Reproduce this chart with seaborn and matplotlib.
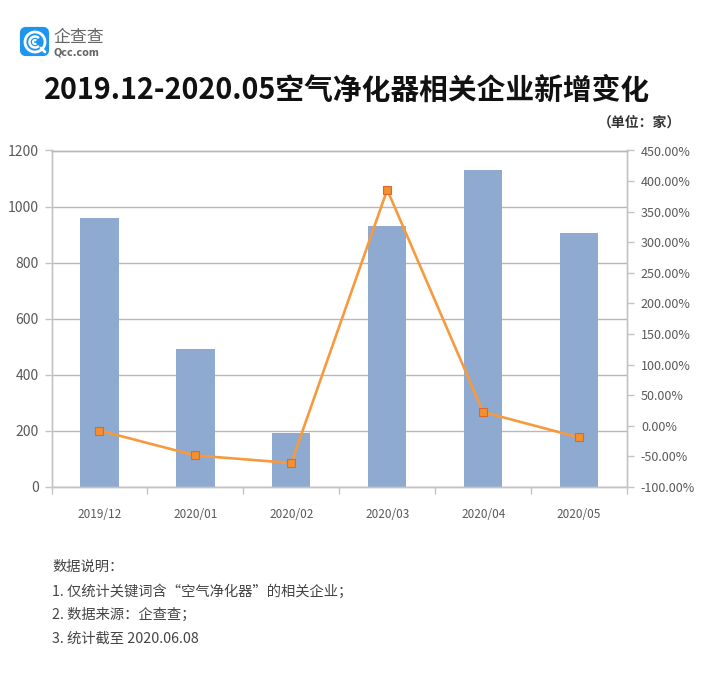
"""Air purifier company registrations, monthly count and change rate."""

import numpy as np
import pandas as pd
import matplotlib
matplotlib.use('Agg')
import matplotlib.pyplot as plt
from matplotlib.patches import FancyBboxPatch, Circle, Arc
import seaborn as sns

months = ['2019/12', '2020/01', '2020/02', '2020/03', '2020/04', '2020/05']
new_companies = [959, 493, 192, 929, 1130, 907]
change_pct = [-7.7, -48.4, -60.8, 385.8, 22.5, -19]
left_ticks = [0, 200, 400, 600, 800, 1000, 1200]
right_ticks = [-100, -50, 0, 50, 100, 150, 200, 250, 300, 350, 400, 450]

TITLE = '2019.12-2020.05空气净化器相关企业新增变化'
NOTES = ['数据说明：',
         '1. 仅统计关键词含“空气净化器”的相关企业；',
         '2. 数据来源：企查查；',
         '3. 统计截至 2020.06.08']

sns.set_theme(style='white')
plt.rcParams['font.family'] = ['Noto Sans CJK SC', 'DejaVu Sans']

df = pd.DataFrame({'month': months, 'count': new_companies, 'pct': change_pct})

W, H = 703, 690
fig = plt.figure(figsize=(W / 100, H / 100), dpi=100, facecolor='white')
ax = fig.add_axes([51.5 / W, 1 - 487 / H, 575.5 / W, 336.5 / H])

sns.barplot(data=df, x='month', y='count', color='#8FAAD1', saturation=1, width=0.4, linewidth=0, ax=ax, zorder=2)
ax.set_ylim(0, 1200)
ax.set_xlim(-0.5, 5.5)
ax.set_xlabel('')
ax.set_ylabel('')
ax.set_yticks(left_ticks)
ax.yaxis.grid(True, color='#B8B8B8', linewidth=1)
ax.set_axisbelow(True)

ax2 = ax.twinx()
sns.lineplot(data=df, x='month', y='pct', color='#F79A3E', linewidth=1.9, marker='s', markersize=5.5,
             markerfacecolor='#F39030', markeredgecolor='#E0662A', markeredgewidth=0.8, ax=ax2, zorder=3)
ax2.set_ylim(-100, 450)
ax2.set_xlim(-0.5, 5.5)
ax2.set_ylabel('')
ax2.set_yticks(right_ticks)
ax2.set_yticklabels([f'{v:.2f}%' for v in right_ticks])
ax2.grid(False)

for a in (ax, ax2):
    for side in ('right', 'left', 'bottom'):
        a.spines[side].set_color('#C4C4C4')
        a.spines[side].set_linewidth(1)
    a.spines['top'].set_color('#B8B8B8')
    a.spines['top'].set_linewidth(1)

ax.set_xticks(np.arange(-0.5, 6, 1), minor=True)
ax.tick_params(axis='x', which='minor', length=5, width=1, color='#C4C4C4', bottom=True)
ax.tick_params(axis='x', which='major', length=0, pad=15, labelsize=8.5, labelcolor='#595959')
ax.tick_params(axis='y', length=5, width=1, color='#C4C4C4', left=True, pad=4, labelsize=10, labelcolor='#595959')
ax2.tick_params(axis='y', length=5, width=1, color='#C4C4C4', right=True, pad=5, labelsize=9, labelcolor='#595959')

fig.text(347 / W, 1 - 90 / H, TITLE, ha='center', va='center', fontsize=20.7, fontweight='bold', color='#111111')
fig.text(639 / W, 1 - 123 / H, '（单位：家）', ha='center', va='center', fontsize=10, fontweight='bold', color='#333333')

for i, line in enumerate(NOTES):
    fig.text(52 / W, 1 - (567 + i * 24) / H, line, ha='left', va='center', fontsize=10.3, color='#444444')

# logo, drawn in pixel coords over the whole figure
logo = fig.add_axes([0, 0, 1, 1], facecolor='none')
logo.set_xlim(0, W)
logo.set_ylim(H, 0)
logo.axis('off')
logo.add_patch(FancyBboxPatch((22, 29), 25, 25, boxstyle='round,pad=0,rounding_size=4', transform=logo.transData,
                              facecolor='#1E96F0', edgecolor='#1E96F0', linewidth=3))
logo.add_patch(Circle((35, 42), 10, fill=False, edgecolor='white', linewidth=2))
logo.add_patch(Arc((35, 42), 11, 11, theta1=45, theta2=315, edgecolor='white', linewidth=1.8))
logo.add_patch(Arc((35, 42), 4, 4, theta1=45, theta2=315, edgecolor='white', linewidth=1.5))
logo.plot([41, 45], [48, 52], color='white', linewidth=2)
logo.text(53, 37, '企查查', ha='left', va='center', fontsize=12.2, color='#666666')
logo.text(53, 52.5, 'Qcc.com', ha='left', va='center', fontsize=7, color='#666666', fontweight='bold', family='DejaVu Sans')

fig.savefig('out.png', dpi=100)
